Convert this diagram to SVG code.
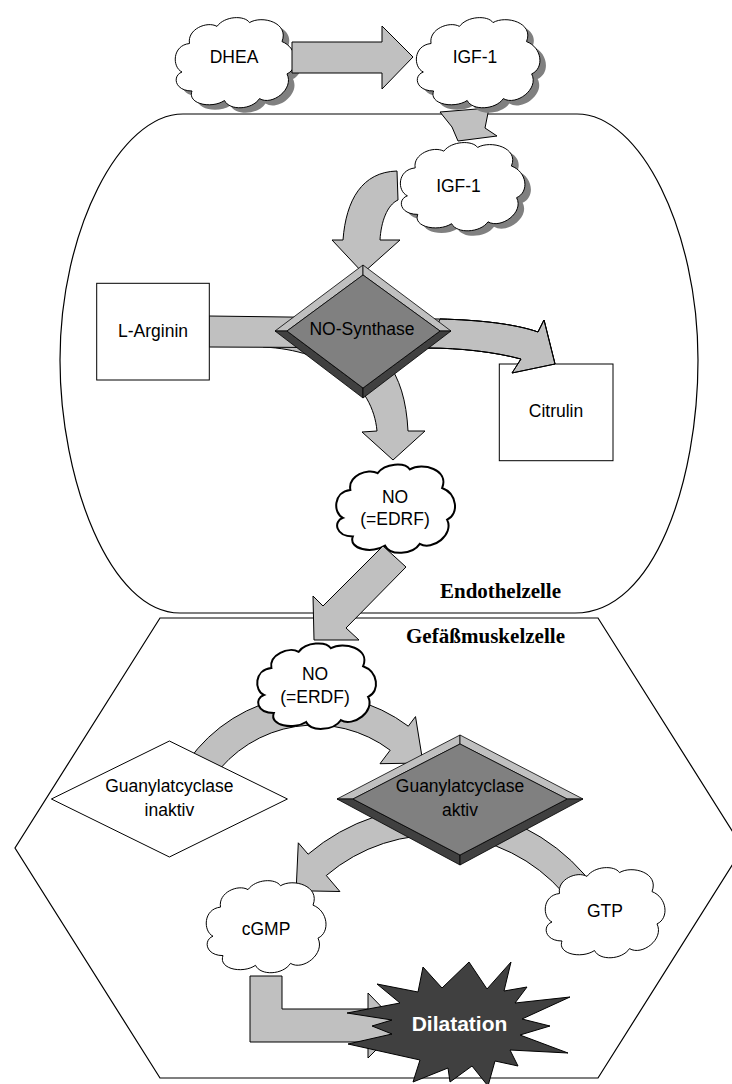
<svg xmlns="http://www.w3.org/2000/svg" width="732" height="1084" viewBox="0 0 732 1084">
<style>
.t{font-family:"Liberation Sans",Arial,sans-serif;font-size:17.5px;fill:#000;text-anchor:middle}
.lab{font-family:"Liberation Serif","Times New Roman",serif;font-size:21px;font-weight:bold;fill:#000;text-anchor:middle}
.arr{fill:#c0c0c0;stroke:#000;stroke-width:1;stroke-linejoin:miter}
.cell{fill:#fff;stroke:#000;stroke-width:1.2}
.box{fill:#fff;stroke:#000;stroke-width:1}
.cl{fill:#fff;stroke:#000;stroke-width:1}
.clb{fill:#fff;stroke:#000;stroke-width:2}
.sh{fill:#808080;stroke:none}
.lt{fill:#c0c0c0;stroke:#000;stroke-width:0.8}
.dk{fill:#404040;stroke:#000;stroke-width:0.8}
.fc{fill:#808080;stroke:#000;stroke-width:0.8}
</style>
<defs>
<path id="cloud" vector-effect="non-scaling-stroke" d="M8,60 C0,55 0,32 14,30 C12,15 28,6 36,12 C42,1 58,0 62,8 C72,0 94,8 88,28 C100,34 102,56 92,62 C98,78 80,96 70,88 C64,100 46,101 42,90 C32,99 12,94 16,80 C2,80 0,64 8,60 Z"/>
</defs>

<g id="cells">
<path id="endothelzelle" class="cell" d="M183,114 H577 C640,114 698,230 698,360 C698,480 655,613 575,613 H180 C110,613 60,480 60,360 C60,230 120,114 183,114 Z"/>
<polygon id="gefaessmuskelzelle" class="cell" points="160,618 598,618 743,848 598,1078 160,1078 15,848"/>
<text class="lab" x="500.5" y="597.7" textLength="121" lengthAdjust="spacing">Endothelzelle</text>
<text class="lab" x="485.5" y="642.7" textLength="159" lengthAdjust="spacing">Gefäßmuskelzelle</text>
</g>

<g id="connectors-back">
<polygon class="arr" points="440,112 489,108 485,128 497,136 458,141 452,127"/>
<path class="arr" d="M397,171 C362,172 346,200 343,240 L332,240 L363,273 L400,240 L380,240 C381,222 387,205 398,200 Z"/>
<path class="arr" d="M263,330 L330,330 C380,340 405,370 408,431 L425,431 L393,460 L362,432 L377,431 C373,385 330,350 263,347 Z"/>
<path class="arr" d="M209,316 L440,319 C480,320 515,324 538,332 L544,320 L555,364 L512,373 L521,359 C495,352 460,348 428,348 L209,347 Z"/>
<path class="arr" d="M188,761.1 A155,155 0 0 1 408.3,726.2 L415.5,716.6 L423,763 L380,763.7 L390.2,750.2 A125,125 0 0 0 212.6,778.3 Z"/>
<path class="arr" d="M584.7,874.8 A197,197 0 0 0 308.1,854.2 L298.3,842.8 L296.1,890.7 L339.9,891.5 L326.3,875.5 A169,169 0 0 1 563.5,893.1 Z"/>
<polygon class="arr" points="250,976 282,976 282,1009 368,1009 368,993 400,1026 368,1058 368,1042 250,1042"/>
</g>

<g id="dhea">
<use href="#cloud" class="sh" transform="translate(178,20) scale(1.25,0.95)"/>
<use href="#cloud" class="cl" transform="translate(172,15) scale(1.25,0.95)"/>
<text class="t" x="234" y="63">DHEA</text>
</g>
<g id="igf1-top">
<use href="#cloud" class="sh" transform="translate(419,20) scale(1.29,0.95)"/>
<use href="#cloud" class="cl" transform="translate(413,15) scale(1.29,0.95)"/>
<text class="t" x="475" y="63">IGF-1</text>
</g>
<g id="igf1-inner">
<use href="#cloud" class="sh" transform="translate(403,145) scale(1.3,0.93)"/>
<use href="#cloud" class="cl" transform="translate(397,140) scale(1.3,0.93)"/>
<text class="t" x="458.5" y="191.5">IGF-1</text>
</g>
<g id="l-arginin">
<rect class="box" x="96.7" y="283.3" width="112.6" height="96.7"/>
<text class="t" x="153" y="337">L-Arginin</text>
</g>
<g id="citrulin">
<rect class="box" x="499.3" y="364" width="113.7" height="96.7"/>
<text class="t" x="556" y="417">Citrulin</text>
</g>

<g id="connector-citrulin">
<path class="arr" d="M440,319 C480,320 515,324 538,332 L544,320 L555,364 L512,373 L521,359 C495,352 460,348 428,348 Z" stroke="none"/>
<path fill="none" stroke="#000" stroke-width="1" d="M440,319 C480,320 515,324 538,332 L544,320 L555,364 L512,373 L521,359 C495,352 460,348 428,348"/>
</g>

<g id="no-synthase">
<polygon class="lt" points="363,265 363,275 287,331 275,331"/>
<polygon class="lt" points="363,265 451,331 440,331 363,275"/>
<polygon class="dk" points="275,331 287,331 363,388 363,398"/>
<polygon class="dk" points="363,398 363,388 440,331 451,331"/>
<polygon class="fc" points="363,275 440,331 363,388 287,331"/>
<text class="t" x="362" y="335">NO-Synthase</text>
</g>

<g id="no-edrf">
<use href="#cloud" class="clb" transform="translate(333,462) scale(1.24,0.93)"/>
<text class="t" x="395" y="503">NO</text>
<text class="t" x="395" y="525">(=EDRF)</text>
</g>

<g id="guanylatcyclase-inaktiv">
<polygon class="box" points="169.4,741 287.4,799 169.4,857 51.4,799"/>
<text class="t" x="169.4" y="792">Guanylatcyclase</text>
<text class="t" x="169.4" y="816">inaktiv</text>
</g>

<g id="no-erdf">
<use href="#cloud" class="clb" transform="translate(254,641) scale(1.24,0.9)"/>
<text class="t" x="315" y="680">NO</text>
<text class="t" x="315" y="703">(=ERDF)</text>
</g>

<g id="guanylatcyclase-aktiv">
<polygon class="lt" points="460,735 460,744 353,799 337,799"/>
<polygon class="lt" points="460,735 583,799 567,799 460,744"/>
<polygon class="dk" points="337,799 353,799 460,855 460,865"/>
<polygon class="dk" points="460,865 460,855 567,799 583,799"/>
<polygon class="fc" points="460,744 567,799 460,855 353,799"/>
<text class="t" x="460" y="792">Guanylatcyclase</text>
<text class="t" x="460" y="816">aktiv</text>
</g>

<g id="cgmp">
<use href="#cloud" class="cl" transform="translate(203,878) scale(1.25,0.97)"/>
<text class="t" x="266" y="935">cGMP</text>
</g>
<g id="gtp">
<use href="#cloud" class="cl" transform="translate(542,865) scale(1.25,0.95)"/>
<text class="t" x="605" y="917">GTP</text>
</g>

<g id="connectors-front">
<polygon class="arr" points="292,42 382,42 382,26 413,57 382,89 382,73 292,73"/>
<polygon class="arr" points="383,546 323,606 313,596 314,640 359,640 346,628 406,567"/>
</g>

<g id="dilatation">
<polygon fill="#404040" stroke="#000" stroke-width="1" points="469,962 487,989 511,962 504,991 527,987 515,1003 570,997 522,1019 550,1026 520,1035 568,1053 510,1050 518,1066 495,1061 488,1086 472,1066 450,1082 448,1068 413,1082 420,1060 348,1044 392,1034 372,1026 392,1020 347,1013 400,1003 377,984 418,992 423,967 442,988"/>
<text x="459.5" y="1031" font-family="Liberation Sans, Arial, sans-serif" font-size="21" font-weight="bold" fill="#fff" text-anchor="middle">Dilatation</text>
</g>
</svg>
